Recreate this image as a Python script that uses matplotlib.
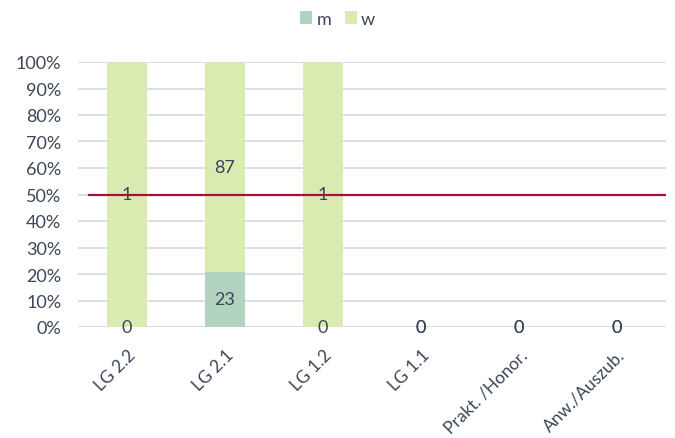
import matplotlib
matplotlib.use("Agg")
import matplotlib.pyplot as plt
import numpy as np

categories = ["LG 2.2", "LG 2.1", "LG 1.2", "LG 1.1", "Prakt. /Honor.", "Anw./Auszub."]
m_values = [0, 23, 0, 0, 0, 0]
w_values = [1, 87, 1, 0, 0, 0]
reference_level = 0.5

plt.rcParams["font.family"] = ["Lato", "DejaVu Sans"]
text_color = "#3b4656"
m_color = "#b3d3c1"
w_color = "#d9ebb0"
line_color = "#a3123f"
grid_color = "#d9dee6"

fig = plt.figure(figsize=(6.75, 4.39), dpi=100)
ax = fig.add_axes([78 / 675, 1 - 328 / 439, 588 / 675, 265 / 439])

x = np.arange(len(categories))
m = np.array(m_values, dtype=float)
w = np.array(w_values, dtype=float)
tot = m + w
safe = np.where(tot > 0, tot, 1)
m_share = np.where(tot > 0, m / safe, 0)
w_share = np.where(tot > 0, w / safe, 0)

bw = 0.4
ax.bar(x, m_share, bw, color=m_color, label="m", zorder=2)
ax.bar(x, w_share, bw, bottom=m_share, color=w_color, label="w", zorder=2)

for xi, ms, ws, mv, wv in zip(x, m_share, w_share, m_values, w_values):
    ax.text(xi, ms / 2, f"{mv}", ha="center", va="center", fontsize=13,
            color=text_color, zorder=4)
    ax.text(xi, ms + ws / 2, f"{wv}", ha="center", va="center", fontsize=13,
            color=text_color, zorder=4)

ax.set_xlim(-0.5, len(categories) - 0.5)
ax.set_ylim(0, 1)
ax.axhline(reference_level, xmin=11 / 588, xmax=1, color=line_color, lw=1.6, zorder=3)

ax.set_yticks(np.arange(0, 1.01, 0.1))
ax.set_yticklabels([f"{int(round(v * 100))}%" for v in np.arange(0, 1.01, 0.1)])
ax.yaxis.grid(True, color=grid_color, lw=1.4, zorder=0)
ax.set_axisbelow(True)
ax.tick_params(axis="y", length=0, pad=12, labelsize=13, labelcolor=text_color)
ax.set_xticks(x)
ax.set_xticklabels(categories, rotation=45, ha="right", rotation_mode="anchor")
ax.tick_params(axis="x", length=0, pad=14, labelsize=12.5, labelcolor=text_color)
for s in ax.spines.values():
    s.set_visible(False)

fig.legend(loc="upper center", bbox_to_anchor=(0.5, 1.01), ncol=2, frameon=False,
           fontsize=13, labelcolor=text_color, handlelength=0.67, handleheight=0.67,
           handletextpad=0.25, columnspacing=0.75)

fig.savefig("out.png", dpi=100)
